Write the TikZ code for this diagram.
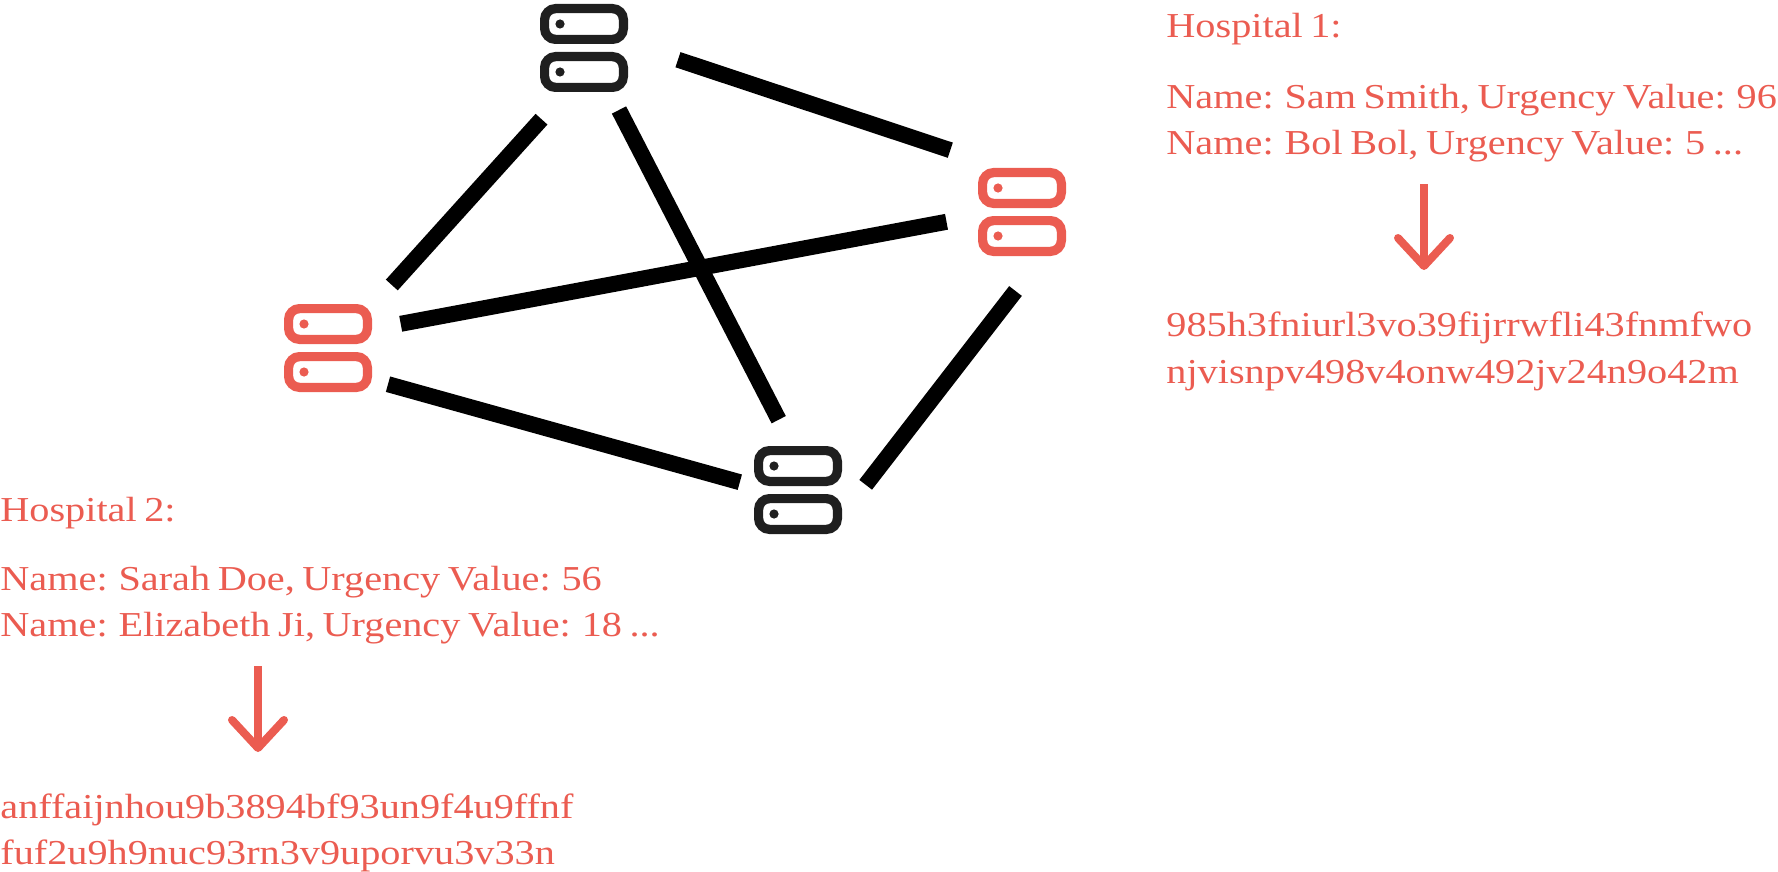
\documentclass[tikz,border=0pt]{standalone}
\usepackage{fontspec}
\setmainfont{Liberation Serif}[FakeStretch=1.15,WordSpace=0.75]
\usetikzlibrary{arrows.meta}
\definecolor{srvred}{HTML}{EB5C51}
\definecolor{srvdark}{HTML}{1F1F1F}

\begin{document}
\begin{tikzpicture}
	[x=0.5pt,y=-0.5pt,
		srvnode/.style={minimum width=44pt,minimum height=44pt,inner sep=0pt},
		srvbox/.style={draw=#1,line width=4.6pt,rounded corners=5.5pt,minimum width=39.4pt,minimum height=15.4pt,inner sep=0pt},
		srvdot/.style={circle,fill=#1,minimum size=4.6pt,inner sep=0pt},
		link/.style={line width=8pt,black},
		flow/.style={-{Straight Barb[length=14pt,width=26pt,round]},line width=4pt,srvred},
		txt/.style={anchor=base west,inner sep=0pt,text=srvred,font=\fontsize{17.5}{21}\selectfont}]

	\useasboundingbox (0,0) rectangle (1778,872);

	% the four servers
	\foreach \nm/\px/\py/\col in {top/584/48/srvdark,left/328/348/srvred,right/1022/212/srvred,bot/798/490/srvdark} {
		\node[srvnode] (\nm) at (\px,\py) {};
		\node[srvbox=\col] (\nm a) at ([shift={(0,-24)}]\nm.center) {};
		\node[srvbox=\col] (\nm b) at ([shift={(0,24)}]\nm.center) {};
		\node[srvdot=\col] (\nm c) at ([shift={(-24,-24)}]\nm.center) {};
		\node[srvdot=\col] (\nm d) at ([shift={(-24,24)}]\nm.center) {};
	}

	\draw[link] ([shift={(-42.5,71.2)}]top.center) -- ([shift={(63.8,-63)}]left.center);
	\draw[link] ([shift={(35,62)}]top.center) -- ([shift={(-19.3,-70.3)}]bot.center);
	\draw[link] ([shift={(94,11.7)}]top.center) -- ([shift={(-71.7,-61.8)}]right.center);
	\draw[link] ([shift={(72.7,-24.2)}]left.center) -- ([shift={(-75.5,9.8)}]right.center);
	\draw[link] ([shift={(60,36.2)}]left.center) -- ([shift={(-58.2,-7.8)}]bot.center);
	\draw[link] ([shift={(-6.5,79)}]right.center) -- ([shift={(67.7,-5.2)}]bot.center);

	% hospital 1
	\node[txt] (headA)  at (1166,38)  {Hospital 1:};
	\node[txt] (nameA)  at (1166,109) {Name: Sam Smith, Urgency Value: 96};
	\node[txt] (nameAA) at (1166,155) {Name: Bol Bol, Urgency Value: 5 ...};
	\node[txt] (hashA)  at (1166,336) {985h3fniurl3vo39fijrrwfli43fnmfwo};
	\node[txt] (hashAA) at (1166,383) {njvisnpv498v4onw492jv24n9o42m};
	\draw[flow] ([shift={(258,29)}]nameAA.base west) -- ([shift={(258,-66)}]hashA.base west);

	% hospital 2
	\node[txt] (headB)  at (0,521) {Hospital 2:};
	\node[txt] (nameB)  at (0,590) {Name: Sarah Doe, Urgency Value: 56};
	\node[txt] (nameBB) at (0,636) {Name: Elizabeth Ji, Urgency Value: 18 ...};
	\node[txt] (hashB)  at (0,818) {anffaijnhou9b3894bf93un9f4u9ffnf};
	\node[txt] (hashBB) at (0,864) {fuf2u9h9nuc93rn3v9uporvu3v33n};
	\draw[flow] ([shift={(258,30)}]nameBB.base west) -- ([shift={(258,-66)}]hashB.base west);

\end{tikzpicture}
\end{document}
